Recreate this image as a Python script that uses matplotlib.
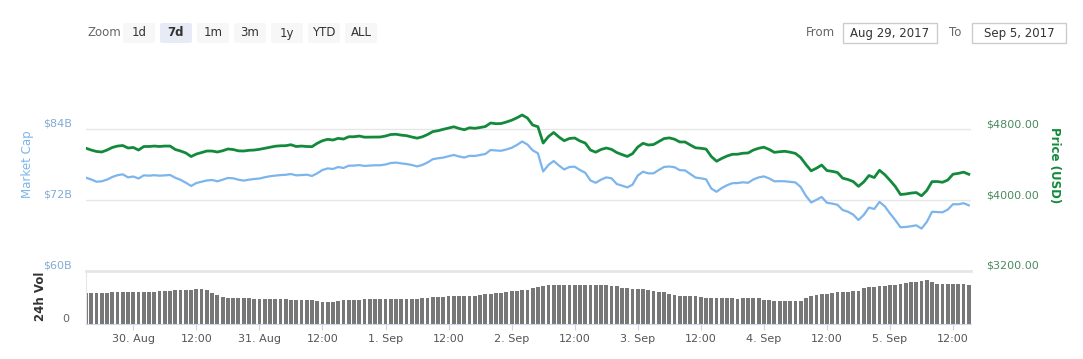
import matplotlib
matplotlib.use("Agg")
import matplotlib.pyplot as plt
import matplotlib.dates as mdates
from matplotlib.patches import FancyBboxPatch, Rectangle
import pandas as pd

# hourly samples, 29 Aug 2017 15:00 -> 5 Sep 2017 15:00
start = "2017-08-29 15:00"

price_usd = [
    4583, 4563, 4547, 4541, 4563, 4592, 4608, 4614, 4586, 4592,
    4563, 4603, 4603, 4608, 4603, 4608, 4608, 4569, 4552, 4530,
    4490, 4518, 4535, 4552, 4552, 4541, 4555, 4575, 4569, 4554,
    4552, 4560, 4563, 4571, 4583, 4595, 4606, 4611, 4612, 4623,
    4603, 4608, 4603, 4601, 4639, 4668, 4684, 4676, 4695, 4687,
    4713, 4713, 4721, 4708, 4709, 4710, 4710, 4721, 4738, 4741,
    4731, 4725, 4710, 4697, 4712, 4738, 4771, 4781, 4797, 4811,
    4825, 4806, 4792, 4814, 4808, 4817, 4828, 4868, 4860, 4862,
    4879, 4899, 4926, 4958, 4924, 4845, 4826, 4642, 4715, 4761,
    4710, 4668, 4693, 4699, 4665, 4642, 4563, 4539, 4569, 4586,
    4571, 4535, 4512, 4491, 4522, 4597, 4639, 4620, 4625, 4658,
    4692, 4700, 4685, 4654, 4654, 4620, 4588, 4583, 4574, 4490,
    4437, 4469, 4496, 4515, 4516, 4527, 4530, 4563, 4583, 4595,
    4570, 4537, 4544, 4549, 4539, 4525, 4479, 4400, 4329, 4358,
    4394, 4332, 4323, 4310, 4246, 4231, 4208, 4154, 4203, 4276,
    4253, 4335, 4286, 4222, 4153, 4062, 4068, 4078, 4084, 4047,
    4107, 4207, 4208, 4200, 4225, 4291, 4300, 4314, 4290,
]

market_cap_b = [
    75.77, 75.47, 75.09, 75.16, 75.45, 75.89, 76.19, 76.34, 75.82, 75.97,
    75.63, 76.17, 76.11, 76.19, 76.11, 76.16, 76.23, 75.75, 75.41, 74.92,
    74.37, 74.87, 75.09, 75.30, 75.38, 75.16, 75.43, 75.72, 75.67, 75.43,
    75.28, 75.43, 75.55, 75.63, 75.84, 76.01, 76.12, 76.21, 76.26, 76.39,
    76.17, 76.21, 76.28, 76.06, 76.51, 77.07, 77.34, 77.24, 77.58, 77.41,
    77.80, 77.81, 77.90, 77.76, 77.81, 77.87, 77.87, 78.00, 78.25, 78.32,
    78.19, 78.08, 77.92, 77.68, 77.92, 78.34, 78.90, 79.05, 79.17, 79.40,
    79.61, 79.35, 79.18, 79.47, 79.44, 79.61, 79.78, 80.45, 80.37, 80.32,
    80.54, 80.82, 81.30, 81.89, 81.38, 80.40, 79.89, 76.82, 77.92, 78.59,
    77.83, 77.16, 77.58, 77.63, 77.07, 76.61, 75.30, 74.91, 75.43, 75.82,
    75.67, 74.70, 74.43, 74.13, 74.59, 76.14, 76.78, 76.50, 76.51, 77.07,
    77.58, 77.66, 77.54, 77.04, 77.00, 76.39, 75.79, 75.67, 75.50, 73.93,
    73.39, 74.03, 74.50, 74.84, 74.86, 74.99, 74.91, 75.47, 75.82, 75.99,
    75.65, 75.16, 75.18, 75.16, 75.06, 74.97, 74.20, 72.71, 71.58, 72.03,
    72.51, 71.54, 71.39, 71.19, 70.31, 70.02, 69.53, 68.62, 69.47, 70.73,
    70.48, 71.68, 70.94, 69.72, 68.62, 67.39, 67.44, 67.56, 67.72, 67.17,
    68.28, 70.01, 69.96, 69.92, 70.38, 71.29, 71.27, 71.46, 71.10,
]

volume_b = [
    1.74, 1.74, 1.75, 1.74, 1.76, 1.79, 1.79, 1.80, 1.79, 1.80,
    1.80, 1.81, 1.80, 1.82, 1.86, 1.87, 1.88, 1.92, 1.92, 1.93,
    1.92, 1.98, 1.97, 1.90, 1.75, 1.64, 1.52, 1.50, 1.49, 1.49,
    1.48, 1.45, 1.44, 1.43, 1.42, 1.42, 1.41, 1.40, 1.39, 1.38,
    1.37, 1.36, 1.35, 1.34, 1.28, 1.26, 1.25, 1.26, 1.33, 1.35,
    1.36, 1.36, 1.37, 1.39, 1.40, 1.41, 1.42, 1.42, 1.42, 1.42,
    1.43, 1.42, 1.43, 1.44, 1.49, 1.50, 1.51, 1.52, 1.52, 1.56,
    1.57, 1.58, 1.58, 1.59, 1.60, 1.66, 1.69, 1.71, 1.76, 1.78,
    1.80, 1.86, 1.89, 1.92, 1.95, 2.03, 2.08, 2.16, 2.20, 2.21,
    2.21, 2.22, 2.21, 2.21, 2.20, 2.21, 2.21, 2.20, 2.20, 2.19,
    2.16, 2.13, 2.04, 2.01, 1.99, 1.98, 1.96, 1.90, 1.86, 1.83,
    1.81, 1.70, 1.64, 1.60, 1.59, 1.58, 1.57, 1.55, 1.50, 1.48,
    1.46, 1.45, 1.45, 1.45, 1.44, 1.45, 1.45, 1.47, 1.46, 1.38,
    1.35, 1.33, 1.32, 1.32, 1.31, 1.32, 1.33, 1.48, 1.56, 1.66,
    1.69, 1.71, 1.73, 1.79, 1.82, 1.83, 1.84, 1.88, 2.01, 2.07,
    2.10, 2.15, 2.17, 2.18, 2.20, 2.28, 2.32, 2.35, 2.38, 2.46,
    2.50, 2.40, 2.28, 2.26, 2.25, 2.25, 2.24, 2.24, 2.22,
]

mcap_ticks = [60, 72, 84]
price_ticks = [3200, 4000, 4800]
zoom_buttons = ["1d", "7d", "1m", "3m", "1y", "YTD", "ALL"]
selected_zoom = "7d"
date_from = "Aug 29, 2017"
date_to = "Sep 5, 2017"

GREEN = "#138a3b"
BLUE = "#7cb5ec"
GRID = "#e6e6e6"

times = pd.date_range(start, periods=len(price_usd), freq="h")

W, H = 1083, 359
plt.rcParams["ytick.alignment"] = "bottom"
fig = plt.figure(figsize=(W / 100, H / 100), dpi=100)


def box(l, t, r, b):
    # pixel box -> figure fraction
    return [l / W, 1 - b / H, (r - l) / W, (b - t) / H]


# --- price / market cap panel ---
ax_mc = fig.add_axes(box(86, 100, 971, 271))
ax_p = ax_mc.twinx()
ax_mc.plot(times, market_cap_b, color=BLUE, lw=1.6)
ax_p.plot(times, price_usd, color=GREEN, lw=2)

ax_mc.set_ylim(60, 88.9)
ax_p.set_ylim(3200, 5127)
ax_mc.set_yticks(mcap_ticks)
ax_mc.set_yticklabels([f"${v}B" for v in mcap_ticks])
ax_p.set_yticks(price_ticks)
ax_p.set_yticklabels([f"${v}.00" for v in price_ticks])
ax_mc.yaxis.grid(True, color=GRID, lw=1)
ax_mc.tick_params(axis="y", length=0, pad=10, labelsize=8, labelcolor="#84aad6")
ax_p.tick_params(axis="y", length=0, pad=11, labelsize=8, labelcolor="#4b8a60")
ax_mc.tick_params(axis="x", length=0, labelbottom=False)
for a in (ax_mc, ax_p):
    for s in a.spines.values():
        s.set_visible(False)

# --- volume panel ---
ax_v = fig.add_axes(box(86, 271, 971, 324), sharex=ax_mc)
ax_v.bar(times, volume_b, width=0.72 / 24, color="#777777", align="center")
ax_v.set_ylim(0, 3.0)
ax_v.set_yticks([0])
ax_v.set_yticklabels(["0"])
ax_v.tick_params(axis="y", length=0, pad=12, labelsize=8, labelcolor="#666666")
ax_v.spines["right"].set_visible(False)
ax_v.spines["top"].set_color(GRID)
ax_v.spines["top"].set_linewidth(2)
ax_v.spines["left"].set_color(GRID)
ax_v.spines["bottom"].set_color("#ccd6eb")

ax_v.set_xlim(times[0], times[-1] + pd.Timedelta(minutes=25))
ax_v.xaxis.set_major_locator(mdates.HourLocator(byhour=[0, 12]))


def fmt_time(x, pos=None):
    d = mdates.num2date(x)
    if d.hour == 12:
        return "12:00"
    return f"{d.day}. {d.strftime('%b')}"


ax_v.xaxis.set_major_formatter(plt.FuncFormatter(fmt_time))
ax_v.tick_params(axis="x", length=4, color="#ccd6eb", labelsize=8,
                 labelcolor="#555555", pad=3)

# axis titles
fig.text(28 / W, 1 - 164 / H, "Market Cap", rotation=90, color=BLUE,
         fontsize=8.5, ha="center", va="center")
fig.text(1054 / W, 1 - 165 / H, "Price (USD)", rotation=270, color=GREEN,
         fontsize=8.5, fontweight="bold", ha="center", va="center")
fig.text(40 / W, 1 - 296 / H, "24h Vol", rotation=90, color="#333333",
         fontsize=8.5, fontweight="bold", ha="center", va="center")

# --- range selector / date inputs (pixel overlay) ---
ov = fig.add_axes([0, 0, 1, 1])
ov.set_xlim(0, W)
ov.set_ylim(H, 0)
ov.axis("off")
ov.patch.set_visible(False)

ov.text(87, 33, "Zoom", fontsize=8.5, color="#666666", va="center")
for i, lab in enumerate(zoom_buttons):
    x0 = 123 + 37 * i
    sel = lab == selected_zoom
    ov.add_patch(FancyBboxPatch((x0, 23), 32, 20,
                                boxstyle="round,pad=0,rounding_size=2",
                                fc="#e6ebf5" if sel else "#f7f7f7", ec="none"))
    ov.text(x0 + 16, 33, lab, fontsize=8.5, color="#333333", ha="center",
            va="center", fontweight="bold" if sel else "normal")

ov.text(806, 33, "From", fontsize=8.5, color="#666666", va="center")
ov.add_patch(Rectangle((843, 23), 94, 20, fc="white", ec="#cccccc", lw=1))
ov.text(890, 33, date_from, fontsize=8.5, color="#333333", ha="center", va="center")
ov.text(949, 33, "To", fontsize=8.5, color="#666666", va="center")
ov.add_patch(Rectangle((972, 23), 94, 20, fc="white", ec="#cccccc", lw=1))
ov.text(1019, 33, date_to, fontsize=8.5, color="#333333", ha="center", va="center")

fig.savefig("out.png", dpi=100)
